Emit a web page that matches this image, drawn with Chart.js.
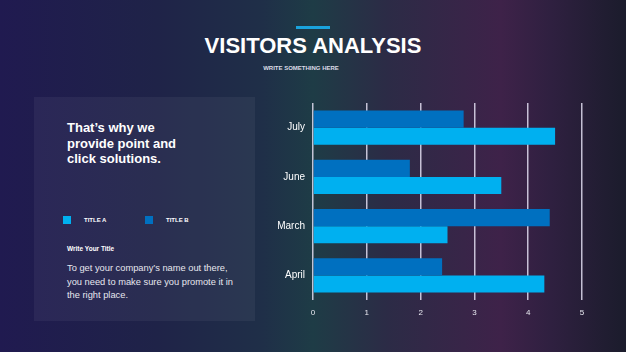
<!DOCTYPE html>
<html>
<head>
<meta charset="utf-8">
<script src="https://cdn.jsdelivr.net/npm/chart.js@4.4.1/dist/chart.umd.min.js"></script>
<style>
  html, body { margin: 0; padding: 0; }
  body {
    width: 626px; height: 352px; overflow: hidden; position: relative;
    font-family: "Liberation Sans", Arial, sans-serif; color: #fff;
    background: linear-gradient(90deg, #201a50 0%, #1f2348 25%, #1f2f48 42%, #1e3c46 50%, #2c2b46 62%, #3e2249 80%, #2f2040 88%, #1b1c2c 100%);
  }
  .accent { position: absolute; left: 296px; top: 26px; width: 34px; height: 3px; background: #1aa3dc; }
  .title { position: absolute; left: 0; width: 626px; top: 33px; text-align: center; font-weight: bold; font-size: 22px; }
  .sub { position: absolute; left: 0; width: 602px; top: 65px; text-align: center; font-size: 6px; font-weight: bold; color: #dcdce6; }
  .panel { position: absolute; left: 34px; top: 97px; width: 221px; height: 224px; background: rgba(255,255,255,0.05); }
  .head { position: absolute; left: 67px; top: 120px; font-weight: bold; font-size: 13px; line-height: 15.5px; }
  .legend { position: absolute; top: 216px; left: 63px; }
  .li { position: absolute; top: 0; white-space: nowrap; font-size: 6px; font-weight: bold; }
  .li span.sw { position: absolute; left: 0; top: 0; width: 8px; height: 8px; }
  .li span.tx { position: absolute; left: 21px; top: 0; line-height: 8px; }
  .wt { position: absolute; left: 67px; top: 245px; font-size: 6.5px; font-weight: bold; }
  .body { position: absolute; left: 67px; top: 262px; width: 172px; font-size: 9.3px; line-height: 13.5px; color: #e6e6ee; }
  #wrap { position: absolute; left: 260px; top: 89px; width: 340px; height: 236px; }
</style>
</head>
<body>
<div class="accent"></div>
<div class="title">VISITORS ANALYSIS</div>
<div class="sub">WRITE SOMETHING HERE</div>
<div class="panel"></div>
<div class="head">That’s why we<br>provide point and<br>click solutions.</div>
<div class="legend" id="legend"></div>
<div class="wt">Write Your Title</div>
<div class="body">To get your company’s name out there, you need to make sure you promote it in the right place.</div>
<div id="wrap"><canvas id="grafico"></canvas></div>
<script>
// dados do grafico
const meses = ['July', 'June', 'March', 'April'];
const tituloA = [4.5, 3.5, 2.5, 4.3];
const tituloB = [2.8, 1.8, 4.4, 2.4];
const ticksX = [0, 1, 2, 3, 4, 5];

const corA = '#00b0f0';
const corB = '#0070c0';

// legenda feita a mao no painel da esquerda
const itensLegenda = [
  { nome: 'TITLE A', cor: corA, x: 0 },
  { nome: 'TITLE B', cor: corB, x: 82 }
];
const legenda = document.getElementById('legend');
itensLegenda.forEach(item => {
  const div = document.createElement('div');
  div.className = 'li';
  div.style.left = item.x + 'px';
  div.innerHTML = '<span class="sw" style="background:' + item.cor + '"></span><span class="tx">' + item.nome + '</span>';
  legenda.appendChild(div);
});

const ctx = document.getElementById('grafico').getContext('2d');

new Chart(ctx, {
  type: 'bar',
  data: {
    labels: meses,
    datasets: [
      { label: 'TITLE B', data: tituloB, backgroundColor: corB, borderWidth: 0 },
      { label: 'TITLE A', data: tituloA, backgroundColor: corA, borderWidth: 0 }
    ]
  },
  options: {
    indexAxis: 'y',
    responsive: true,
    maintainAspectRatio: false,
    animation: false,
    categoryPercentage: 0.7,
    barPercentage: 1.0,
    layout: { padding: { top: 4, right: 18, bottom: 0, left: 0 } },
    plugins: { legend: { display: false }, tooltip: { enabled: false } },
    scales: {
      x: {
        min: 0,
        max: 5,
        afterFit: scale => { scale.height = 25; },
        afterBuildTicks: scale => { scale.ticks = ticksX.map(v => ({ value: v })); },
        grid: { color: 'rgba(225,220,240,0.85)', lineWidth: 1.5, drawTicks: false },
        border: { display: false },
        ticks: { color: '#e8e8f0', font: { family: 'Liberation Sans', size: 8 }, padding: 8 }
      },
      y: {
        afterFit: scale => { scale.width = 53; },
        grid: { display: false, drawTicks: false },
        border: { display: false },
        ticks: { color: '#ffffff', font: { family: 'Liberation Sans', size: 10 }, padding: 8 }
      }
    }
  }
});
</script>
</body>
</html>
